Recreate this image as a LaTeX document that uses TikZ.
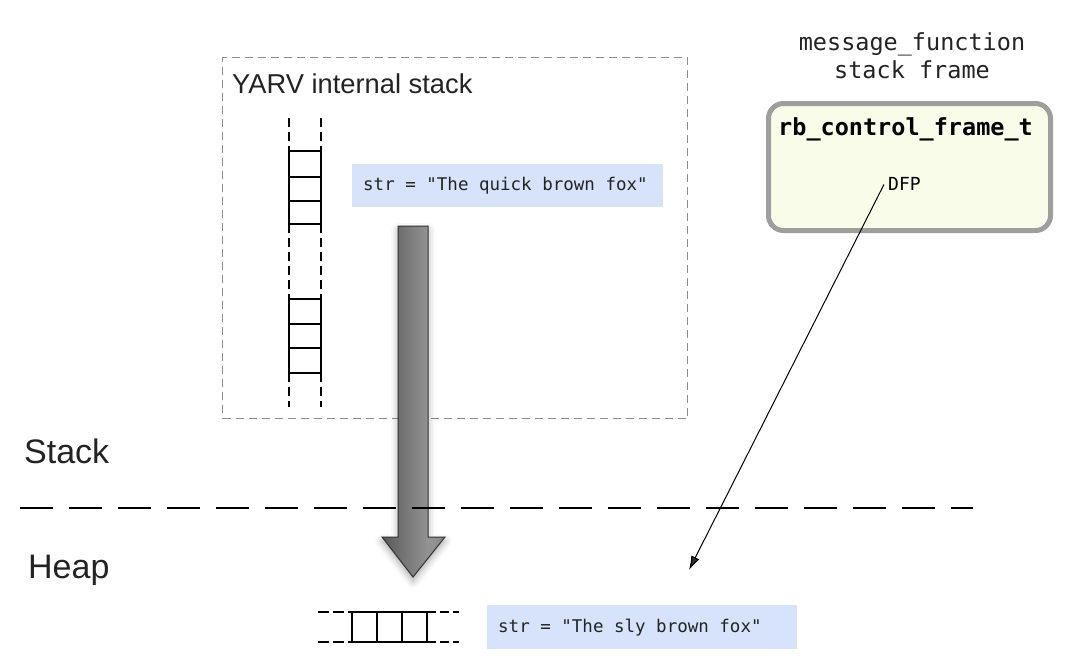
\documentclass[tikz,border=0pt]{standalone}
\usepackage{fontspec}
\setmainfont{Liberation Sans}
\newfontfamily\monofont[WordSpace={1,0,0}]{DejaVu Sans Mono}
\usetikzlibrary{arrows.meta,shadows.blur}
\definecolor{strblue}{RGB}{214,227,251}
\definecolor{frameborder}{RGB}{158,158,158}
\definecolor{framefill}{RGB}{250,252,234}
\definecolor{txt}{RGB}{35,35,35}
\definecolor{boxgray}{RGB}{140,140,140}
\pgfdeclarehorizontalshading{arrowshade}{100bp}{color(0bp)=(black!80); color(30bp)=(black!62); color(62bp)=(black!42); color(100bp)=(black!56)}
\tikzset{
  lbl/.style={inner sep=0pt, anchor=base west, text=txt},
  strbox/.style={fill=strblue, anchor=north west, inner ysep=0pt, inner xsep=11pt, text=txt, font=\monofont\fontsize{17.5}{20}\selectfont},
  cellline/.style={line width=1.5pt, black},
  rail/.style={line width=1.5pt, black, dash pattern=on 9pt off 5pt},
}
\begin{document}
\begin{tikzpicture}[x=1pt,y=-1pt]
\useasboundingbox (0,0) rectangle (1079,665);

% YARV internal stack box
\node[draw=boxgray, line width=1.2pt, dash pattern=on 8pt off 5pt, minimum width=465pt, minimum height=361pt, anchor=north west, inner sep=0pt] (yarv) at (222,57) {};
\node[lbl, font=\fontsize{27.3}{30}\selectfont] (yarvlabel) at (232,93) {YARV internal stack};

% ladder (vertical stack)
\draw[rail] (289,118) -- (289,151);
\draw[rail] (321,118) -- (321,151);
\draw[cellline] (289,151) rectangle (321,177);
\draw[cellline] (289,177) rectangle (321,201);
\draw[cellline] (289,201) rectangle (321,224);
\draw[rail] (289,224) -- (289,299);
\draw[rail] (321,224) -- (321,299);
\draw[cellline] (289,299) rectangle (321,324);
\draw[cellline] (289,324) rectangle (321,348);
\draw[cellline] (289,348) rectangle (321,373);
\draw[rail] (289,373) -- (289,407);
\draw[rail] (321,373) -- (321,407);

% string on the stack
\node[strbox, minimum height=43pt] (str1) at (352,164) {\makebox[289pt][l]{str = "The quick brown fox"}};

% big arrow
\path[shading=arrowshade, draw=black!80, line width=1pt,
      blur shadow={shadow xshift=0pt, shadow yshift=-4pt, shadow blur radius=7pt, shadow opacity=35}]
  (398,226) -- (428,226) -- (428,537) -- (445,537) -- (413,577) -- (382,537) -- (398,537) -- cycle;
\coordinate (bigtip) at (413,577);

% Stack / Heap divider
\node[lbl, font=\fontsize{34}{38}\selectfont] (stacklabel) at (24,463) {Stack};
\node[lbl, font=\fontsize{34}{38}\selectfont] (heaplabel) at (28,578) {Heap};
\coordinate (divL) at (20,508);
\coordinate (divR) at (973,508);
\draw[line width=1.5pt, dash pattern=on 33pt off 16pt] (divL) -- (divR);

% control frame
\node[align=center, text=txt, font=\monofont\fontsize{23.5}{28}\selectfont, inner sep=0pt] (msg) at (912,56) {message\_function\\stack frame};
\node[draw=frameborder, fill=framefill, line width=5pt, rounded corners=15pt, minimum width=282pt, minimum height=127pt, inner sep=0pt] (frame) at (909.5,167) {};
\node[lbl, font=\monofont\bfseries\fontsize{23.5}{28}\selectfont, text=black] (frametitle) at (778,135) {rb\_control\_frame\_t};
\node[lbl, font=\monofont\fontsize{18}{20}\selectfont, text=black] (dfp) at (888,190) {DFP};
\coordinate (ptr) at (689,570);
\draw[line width=1pt, -{Latex[length=14pt,width=9pt]}] ([xshift=-4pt,yshift=-1pt]dfp.west) -- (ptr);

% heap slots
\draw[rail, dash pattern=on 11pt off 4pt] (318,612) -- (352,612);
\draw[rail, dash pattern=on 11pt off 4pt] (318,642) -- (352,642);
\draw[cellline] (352,612) rectangle (377,642);
\draw[cellline] (377,612) rectangle (402,642);
\draw[cellline] (402,612) rectangle (427,642);
\draw[rail, dash pattern=on 9pt off 4pt] (427,612) -- (459,612);
\draw[rail, dash pattern=on 9pt off 4pt] (427,642) -- (459,642);

\node[strbox, minimum height=44pt] (str2) at (487,605) {\makebox[288pt][l]{str = "The sly brown fox"}};
\end{tikzpicture}
\end{document}
